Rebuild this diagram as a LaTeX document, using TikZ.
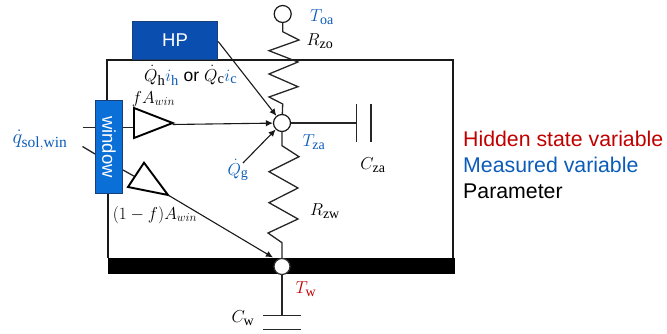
\documentclass[tikz,border=0pt]{standalone}
\usepackage{fontspec}
\setmainfont{Liberation Sans}
\setmathrm{Liberation Serif}
\DeclareMathSizes{17}{17}{14}{11}
\DeclareMathSizes{17.5}{17.5}{14.5}{11}
\DeclareMathSizes{20}{20}{15.5}{12}
\DeclareMathSizes{16}{16}{12.5}{10}
\usetikzlibrary{arrows.meta}
\definecolor{mblue}{HTML}{0B5CB8}
\definecolor{hred}{HTML}{C00000}
\definecolor{hpfill}{HTML}{0A4FB0}
\definecolor{hpedge}{HTML}{173F7A}
\definecolor{winfill}{HTML}{0A6FD6}
\tikzset{
 wire/.style={line width=1.3pt,draw=black!85},
 frameline/.style={line width=1.7pt,draw=black!90},
 cell/.style={circle,draw=black!90,line width=1.2pt,fill=white,minimum size=17pt,inner sep=0pt},
 gain/.style={line width=1.9pt,draw=black,fill=white,line join=miter},
 flow/.style={line width=1.1pt,draw=black!90,-{Latex[length=7pt,width=6.5pt]}},
 lab/.style={inner sep=0pt,font=\fontsize{17}{17}\selectfont},
 legend/.style={inner sep=0pt,anchor=west,font=\fontsize{21.3}{22}\selectfont},
}
\begin{document}
\begin{tikzpicture}[x=1pt,y=-1pt]
\useasboundingbox (0,0) rectangle (667,334);
% envelope
\draw[frameline] (107,108) -- (107,60) -- (453,60) -- (453,258);
\draw[frameline] (108,194) -- (108,258);
\fill[black] (108,257.5) rectangle (455,274);
% boxes
\node[draw=hpedge,line width=1.4pt,fill=hpfill,text=white,minimum width=85pt,minimum height=38pt,inner sep=0pt,font=\fontsize{18.5}{18}\selectfont] (hp) at (175,40.5) {HP};
% stubs behind window
\coordinate (solA) at (82.5,127.5);
\coordinate (solB) at (82.5,146.5);
\coordinate (winB) at (95,154);
\coordinate (winC) at (123,170);
\draw[wire] (solA) -- (134,127.5);
\draw[wire] (solB) -- (winB);
\node[draw=hpedge,line width=1.4pt,fill=winfill,text=white,minimum width=27pt,minimum height=93pt,inner sep=0pt] (win) at (109,147) {\rotatebox{-90}{\fontsize{18.5}{18}\selectfont window}};
% nodes
\node[cell] (oa) at (282.7,14) {};
\node[cell] (za) at (282,123) {};
\node[cell,draw=black!80,minimum size=16pt] (w) at (282,266.5) {};
% resistors
\draw[wire,line join=miter] (oa) -- (282.7,31.7) -- (299,40) -- (269,50.7) -- (298,62) -- (269,74) -- (298,86.7) -- (269,97) -- (282.7,104) -- (za);
\draw[wire,line join=miter] (za) -- (282,145.7) -- (299,156.7) -- (269,171.7) -- (298,188) -- (269,202.7) -- (298,219) -- (268,233) -- (282,242.7) -- (w);
% capacitors
\coordinate (czaA) at (356.7,123);
\draw[wire] (za) -- (czaA);
\draw[wire] (356.7,104) -- (356.7,142);
\draw[wire] (371,104) -- (371,142);
\coordinate (cwA) at (282,315.5);
\draw[wire] (w) -- (cwA);
\draw[wire] (263,315.5) -- (301,315.5);
\draw[wire] (263,329.5) -- (301,329.5);
% gains
\draw[gain] (134,108) -- (134,138) -- (172.7,123) -- cycle;
\coordinate (g1) at (172.7,124.5);
\draw[wire] (winC) -- (135,176.7);
\draw[gain] (144,162.7) -- (128,187) -- (168,195) -- cycle;
\coordinate (g2) at (168,195);
% flows
\draw[flow] (hp.east) ++(0,1) -- (za);
\draw[flow] (g1) -- (za);
\coordinate (qg) at (243,163);
\draw[flow] (qg) -- (za);
\draw[flow] (g2) -- (273,257.5);
% labels
\node[lab,text=mblue,font=\fontsize{20}{20}\selectfont] (lq) at (40,140) {$\dot{q}_{\mathrm{sol,win}}$};
\node[lab,anchor=west,font=\fontsize{17.5}{18}\selectfont] (lqh) at (144,75.5) {$\dot{Q}_{\mathrm{h}}\textcolor{mblue}{i_{\mathrm{h}}}$ or $\dot{Q}_{\mathrm{c}}\textcolor{mblue}{i_{\mathrm{c}}}$};
\node[lab,font=\fontsize{16}{16}\selectfont] (lf) at (153.5,99) {$fA_{win}$};
\node[lab,font=\fontsize{16}{16}\selectfont] (l1f) at (155,215) {$(1-f)A_{win}$};
\node[lab,text=mblue] (ltoa) at (322,17) {$T_{\mathrm{oa}}$};
\node[lab] (lrzo) at (320,41) {$R_{\mathrm{zo}}$};
\node[lab,text=mblue] (ltza) at (314,142) {$T_{\mathrm{za}}$};
\node[lab] (lcza) at (373,165) {$C_{\mathrm{za}}$};
\node[lab,text=mblue] (lqg) at (238,170) {$\dot{Q}_{\mathrm{g}}$};
\node[lab] (lrzw) at (325,211) {$R_{\mathrm{zw}}$};
\node[lab,text=hred] (ltw) at (306,289) {$T_{\mathrm{w}}$};
\node[lab] (lcw) at (243,318) {$C_{\mathrm{w}}$};
% legend
\node[legend,text=hred] (l1) at (463,139) {Hidden state variable};
\node[legend,text=mblue] (l2) at (463,165) {Measured variable};
\node[legend,text=black] (l3) at (463,191) {Parameter};
\end{tikzpicture}
\end{document}
